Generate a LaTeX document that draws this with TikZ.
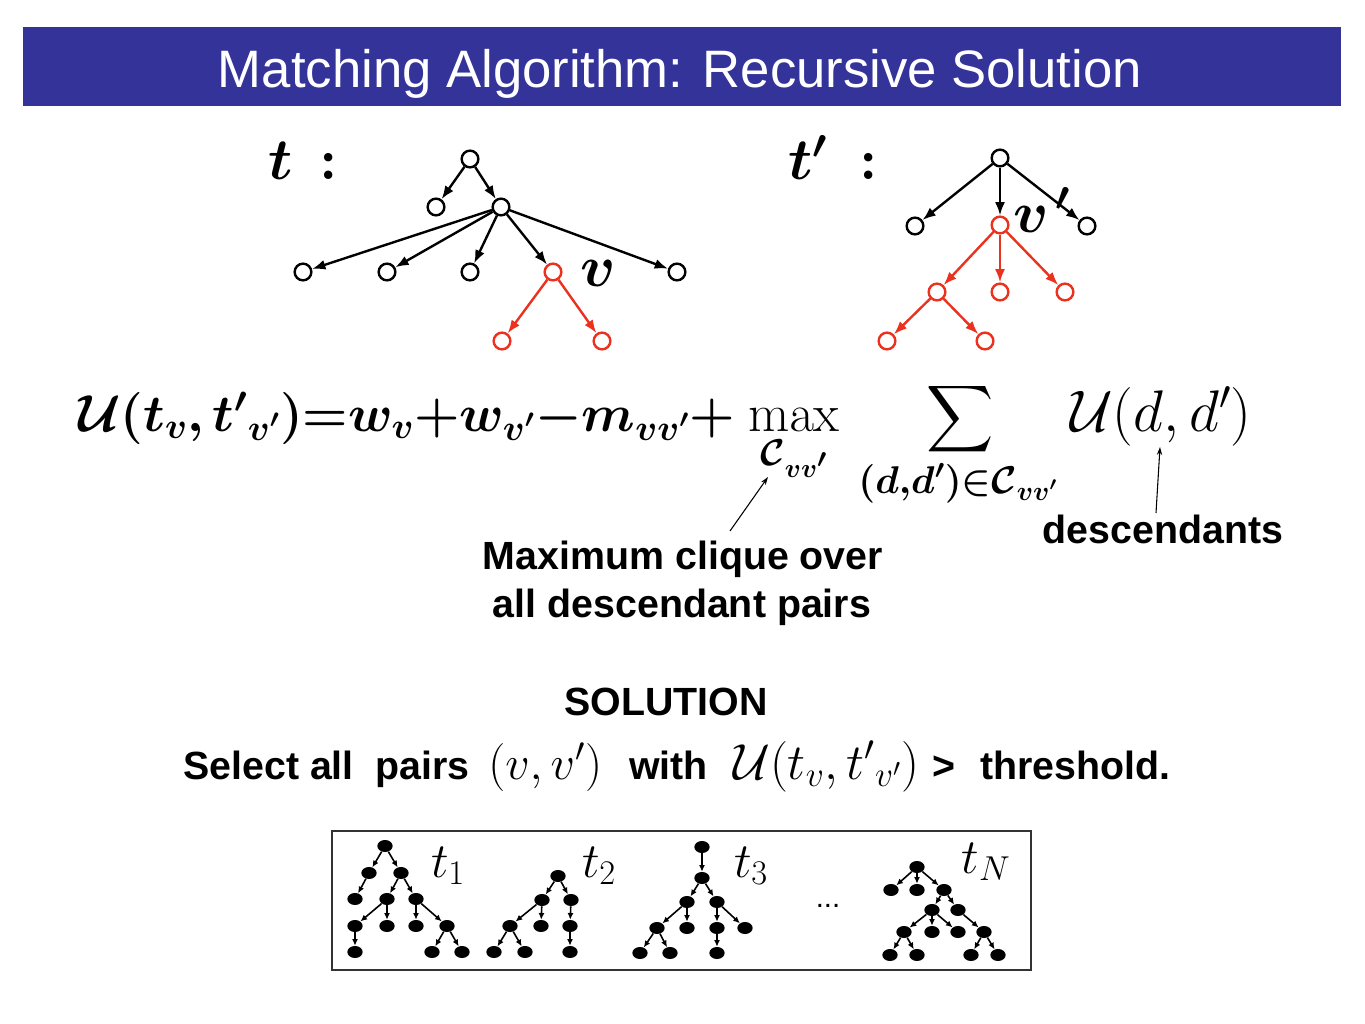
\RequirePackage{fix-cm}
\documentclass[tikz,border=0pt]{standalone}
\usepackage{amsmath}
\usepackage{bm}
\DeclareFontShape{OMX}{cmex}{m}{n}{<->cmex10}{}
\usepackage[no-math]{fontspec}
\setmainfont{Liberation Sans}
\usetikzlibrary{arrows.meta,shapes.geometric}
\definecolor{titleblue}{RGB}{51,51,153}
\definecolor{tred}{RGB}{235,50,30}
\begin{document}
\begin{tikzpicture}[x=0.75pt,y=-0.75pt,
  onode/.style={circle,draw=black,fill=white,line width=1.8pt,minimum size=12.5pt,inner sep=0pt},
  rnode/.style={onode,draw=tred},
  tarrow/.style={-{Latex[length=10pt,width=7.5pt]},line width=1.8pt},
  bnode/.style={ellipse,fill=black,minimum width=11.5pt,minimum height=9pt,inner sep=0pt},
  barrow/.style={-{Latex[length=5pt,width=4.5pt]},line width=1.2pt},
  txt/.style={inner sep=0pt,font=\fontsize{29.5pt}{36pt}\selectfont\bfseries},
  note/.style={-{Stealth[length=6pt,width=4pt]},line width=0.8pt},
  fml/.style={inner sep=0pt,font=\fontsize{39pt}{44pt}\selectfont},
  big/.style={inner sep=0pt,font=\fontsize{44pt}{48pt}\selectfont},
  tl/.style={inner sep=0pt,font=\fontsize{37pt}{40pt}\selectfont}]
\useasboundingbox (0,0) rectangle (1365,1024);
\fill[white] (0,0) rectangle (1365,1024);
% title
\fill[titleblue] (23,27) rectangle (1341,106);
\node[inner sep=0pt,anchor=base,text=white,font=\fontsize{39.5pt}{40pt}\selectfont] (title) at (680,88) {Matching Algorithm: Recursive Solution};
% tree t
\node[big,anchor=base west] (tlab) at (268,180) {$\bm{t}\hspace{8pt}\bm{:}$};
\node[onode] (a0) at (470,159) {};
\node[onode] (a1) at (436,207) {};
\node[onode] (a2) at (501,207) {};
\node[onode] (a3) at (303,272) {};
\node[onode] (a4) at (387,272) {};
\node[onode] (a5) at (470,272) {};
\node[rnode] (av) at (553,272) {};
\node[onode] (a6) at (677,272) {};
\node[rnode] (a7) at (502,341) {};
\node[rnode] (a8) at (602,341) {};
\node[big] (vlab) at (598,273) {$\bm{v}$};
\draw[tarrow] (a0) -- (a1);
\draw[tarrow] (a0) -- (a2);
\draw[tarrow] (a2) -- (a3);
\draw[tarrow] (a2) -- (a4);
\draw[tarrow] (a2) -- (a5);
\draw[tarrow] (a2) -- (av);
\draw[tarrow] (a2) -- (a6);
\draw[tarrow,tred] (av) -- (a7);
\draw[tarrow,tred] (av) -- (a8);
% tree t'
\node[big,anchor=base west] (tplab) at (788,180) {$\bm{t'}\hspace{12pt}\bm{:}$};
\node[onode] (b0) at (1000,158) {};
\node[onode] (b1) at (915,226) {};
\node[rnode] (bv) at (1000,225) {};
\node[onode] (b2) at (1087,226) {};
\node[rnode] (b3) at (937,292) {};
\node[rnode] (b4) at (1000,292) {};
\node[rnode] (b5) at (1065,292) {};
\node[rnode] (b6) at (887,341) {};
\node[rnode] (b7) at (985,341) {};
\draw[tarrow] (b0) -- (b1);
\draw[tarrow] (b0) -- (bv);
\draw[tarrow] (b0) -- (b2);
\draw[tarrow,tred] (bv) -- (b3);
\draw[tarrow,tred] (bv) -- (b4);
\draw[tarrow,tred] (bv) -- (b5);
\draw[tarrow,tred] (b3) -- (b6);
\draw[tarrow,tred] (b3) -- (b7);
\node[big,anchor=base west] (vplab) at (1013,232) {$\bm{v}^{\hspace{5pt}\bm{\prime}}$};
% formula
\node[fml,anchor=base west] (lhs) at (78,431) {$\bm{\mathcal{U}(t_v,{t'}_{v'})\mathord{=}w_v\mathord{+}w_{v'}\mathord{-}m_{vv'}\mathord{+}}$};
\node[inner sep=0pt,font=\fontsize{40pt}{44pt}\selectfont,anchor=base] (mx) at (794,431) {$\displaystyle\max_{\bm{\mathcal{C}_{vv'}}}$};
\node[inner sep=0pt,font=\fontsize{35pt}{40pt}\selectfont,anchor=base] (sm) at (960,431) {$\displaystyle\sum$};
\node[inner sep=0pt,font=\fontsize{29pt}{32pt}\selectfont,anchor=base] (smlim) at (958,493) {$\bm{(d{,}d')\mathord{\in}\mathcal{C}_{vv'}}$};
\node[inner sep=0pt,font=\fontsize{44pt}{48pt}\selectfont,anchor=base west] (ud) at (1070,431) {$\mathcal{U}(d,d')$};
% notes
\node[txt,anchor=base] (mq1) at (683,569) {Maximum clique over};
\node[txt,anchor=base] (mq2) at (682,617) {all descendant pairs};
\node[txt,anchor=base] (desc) at (1163,543) {descendants};
\coordinate (m1) at (730,531);
\coordinate (m2) at (768,477);
\coordinate (d1) at (1156,513);
\coordinate (d2) at (1160,447);
\draw[note] (m1) -- (m2);
\draw[note] (d1) -- (d2);
% solution
\node[txt,anchor=base] (sol) at (666,715) {SOLUTION};
\node[txt,anchor=base west] (s1) at (183,779) {Select all\ \ pairs};
\node[inner sep=0pt,font=\fontsize{36pt}{40pt}\selectfont,anchor=base west] (s2) at (488,779) {$(v,v')$};
\node[txt,anchor=base west] (s3) at (629,779) {with};
\node[inner sep=0pt,font=\fontsize{38pt}{40pt}\selectfont,anchor=base west] (s4) at (733,779) {$\mathcal{U}(t_v,{t'}_{v'})$};
\node[txt,anchor=base west] (s5) at (932,779) {>};
\node[txt,anchor=base west] (s6) at (980,779) {threshold.};
% box
\draw[line width=1.5pt,draw=black!80] (332,831) rectangle (1031,970);
% t1
\node[bnode] (p0) at (385,846) {};
\node[bnode] (p1) at (369,873) {};
\node[bnode] (p2) at (401,873) {};
\node[bnode] (p3) at (355,899) {};
\node[bnode] (p4) at (387,899) {};
\node[bnode] (p5) at (416,899) {};
\node[bnode] (p6) at (355,926) {};
\node[bnode] (p7) at (387,926) {};
\node[bnode] (p8) at (416,926) {};
\node[bnode] (p9) at (447,926) {};
\node[bnode] (p10) at (355,952) {};
\node[bnode] (p11) at (432,952) {};
\node[bnode] (p12) at (462,952) {};
\foreach \u/\v in {p0/p1,p0/p2,p1/p3,p2/p4,p2/p5,p4/p6,p4/p7,p5/p8,p5/p9,p6/p10,p9/p11,p9/p12}
  \draw[barrow] (\u) -- (\v);
\node[tl] (t1) at (448,866) {$t_1$};
% t2
\node[bnode] (q0) at (558,876) {};
\node[bnode] (q1) at (542,900) {};
\node[bnode] (q2) at (571,900) {};
\node[bnode] (q3) at (510,926) {};
\node[bnode] (q4) at (541,926) {};
\node[bnode] (q5) at (570,926) {};
\node[bnode] (q6) at (494,952) {};
\node[bnode] (q7) at (525,952) {};
\node[bnode] (q8) at (570,952) {};
\foreach \u/\v in {q0/q1,q0/q2,q1/q3,q1/q4,q2/q5,q3/q6,q3/q7,q5/q8}
  \draw[barrow] (\u) -- (\v);
\node[tl] (t2) at (599,866) {$t_2$};
% t3
\node[bnode] (r0) at (702,847) {};
\node[bnode] (r1) at (702,878) {};
\node[bnode] (r2) at (687,902) {};
\node[bnode] (r3) at (717,902) {};
\node[bnode] (r4) at (657,928) {};
\node[bnode] (r5) at (687,928) {};
\node[bnode] (r6) at (717,928) {};
\node[bnode] (r7) at (745,928) {};
\node[bnode] (r8) at (640,953) {};
\node[bnode] (r9) at (670,953) {};
\node[bnode] (r10) at (717,953) {};
\foreach \u/\v in {r0/r1,r1/r2,r1/r3,r2/r4,r2/r5,r3/r6,r3/r7,r4/r8,r4/r9,r6/r10}
  \draw[barrow] (\u) -- (\v);
\node[tl] (t3) at (751,866) {$t_3$};
\node[inner sep=0pt,font=\fontsize{22pt}{24pt}\selectfont] (dots) at (828,906) {...};
% tN
\node[bnode] (s0) at (917,867) {};
\node[bnode] (sa) at (891,890) {};
\node[bnode] (sb) at (917,890) {};
\node[bnode] (sc) at (944,890) {};
\node[bnode] (sd) at (932,910) {};
\node[bnode] (se) at (958,910) {};
\node[bnode] (sf) at (904,932) {};
\node[bnode] (sg) at (932,932) {};
\node[bnode] (sh) at (958,932) {};
\node[bnode] (si) at (984,932) {};
\node[bnode] (sj) at (890,955) {};
\node[bnode] (sk) at (917,955) {};
\node[bnode] (sl) at (971,955) {};
\node[bnode] (sm2) at (998,955) {};
\foreach \u/\v in {s0/sa,s0/sb,s0/sc,sc/sd,sc/se,sd/sf,sd/sg,sd/sh,se/si,sf/sj,sf/sk,si/sl,si/sm2}
  \draw[barrow] (\u) -- (\v);
\node[tl] (tN) at (986,862) {$t_N$};
\end{tikzpicture}
\end{document}
